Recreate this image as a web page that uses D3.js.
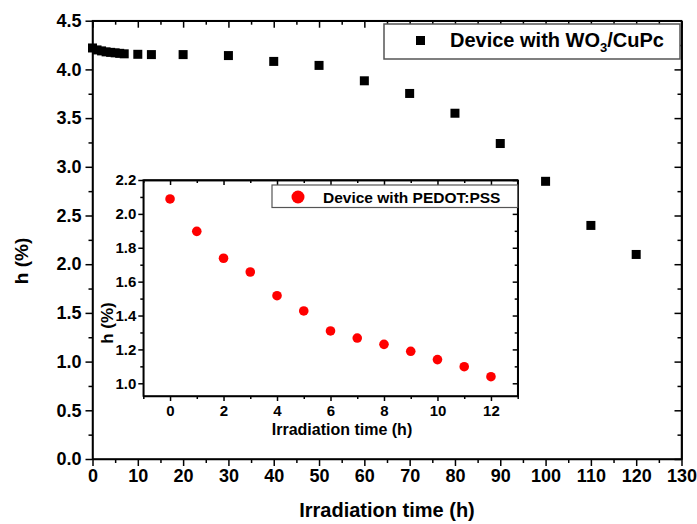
<!DOCTYPE html>
<html>
<head>
<meta charset="utf-8">
<script src="https://cdn.jsdelivr.net/npm/d3@7"></script>
<style>
  body { margin: 0; background: #fff; }
  svg text { font-family: "Liberation Sans", Arial, sans-serif; font-weight: bold; }
</style>
</head>
<body>
<div id="chart"></div>
<script>
// main series: device with WO3/CuPc
const mainTime = [0, 1, 2, 3, 4, 5, 6, 7, 10, 13, 20, 30, 40, 50, 60, 70, 80, 90, 100, 110, 120];
const mainEff = [4.22, 4.20, 4.19, 4.18, 4.175, 4.17, 4.165, 4.16, 4.155, 4.152, 4.152, 4.142, 4.082, 4.041, 3.883, 3.753, 3.55, 3.239, 2.851, 2.398, 2.10];
const mainXTicks = d3.range(0, 131, 10);
const mainYTicks = d3.range(0, 4.51, 0.5);

// inset series: device with PEDOT:PSS
const insetTime = [0, 1, 2, 3, 4, 5, 6, 7, 8, 9, 10, 11, 12];
const insetEff = [2.088, 1.897, 1.738, 1.657, 1.517, 1.427, 1.309, 1.267, 1.230, 1.189, 1.140, 1.098, 1.039];
const insetXTicks = d3.range(0, 13, 2);
const insetYTicks = [1.0, 1.2, 1.4, 1.6, 1.8, 2.0, 2.2];

const width = 697, height = 524;
const svg = d3.select('#chart').append('svg')
    .attr('width', width)
    .attr('height', height);

// box with ticks on all four sides: outward on left/bottom, inward on top/right
function drawFrame(g, x, y, xMajor, xMinor, yMajor, yMinor, opt) {
    const [x0, x1] = x.range();
    const [y0, y1] = y.range(); // y0 bottom, y1 top

    const bottom = g.append('g').attr('transform', `translate(0,${y0})`);
    bottom.call(d3.axisBottom(x).tickValues(xMinor).tickSize(opt.minor).tickFormat(''));
    bottom.call(g2 => g2.select('.domain').remove());
    const bMaj = g.append('g').attr('transform', `translate(0,${y0})`)
        .call(d3.axisBottom(x).tickValues(xMajor).tickSize(opt.major).tickPadding(opt.xPad).tickSizeOuter(0));
    bMaj.selectAll('text').attr('font-size', opt.fs).attr('fill', '#000');

    const left = g.append('g').attr('transform', `translate(${x0},0)`);
    left.call(d3.axisLeft(y).tickValues(yMinor).tickSize(opt.minor).tickFormat(''));
    left.call(g2 => g2.select('.domain').remove());
    const lMaj = g.append('g').attr('transform', `translate(${x0},0)`)
        .call(d3.axisLeft(y).tickValues(yMajor).tickSize(opt.major).tickPadding(opt.yPad).tickFormat(d3.format('.1f')).tickSizeOuter(0));
    lMaj.selectAll('text').attr('font-size', opt.fs).attr('fill', '#000');

    const top = g.append('g').attr('transform', `translate(0,${y1})`);
    top.call(d3.axisBottom(x).tickValues(xMajor).tickSize(opt.major).tickFormat('').tickSizeOuter(0));
    top.append('g').call(d3.axisBottom(x).tickValues(xMinor).tickSize(opt.minor).tickFormat('').tickSizeOuter(0));

    const right = g.append('g').attr('transform', `translate(${x1},0)`);
    right.call(d3.axisLeft(y).tickValues(yMajor).tickSize(opt.major).tickFormat('').tickSizeOuter(0));
    right.append('g').call(d3.axisLeft(y).tickValues(yMinor).tickSize(opt.minor).tickFormat('').tickSizeOuter(0));

    g.selectAll('.domain').attr('stroke', '#000').attr('stroke-width', 1.5);
    g.selectAll('.tick line').attr('stroke', '#000').attr('stroke-width', 1.5);
}

// ---------- main plot ----------
const mx = d3.scaleLinear().domain([0, 130]).range([92.5, 681.5]);
const my = d3.scaleLinear().domain([0, 4.5]).range([459, 20.7]);

const mainG = svg.append('g');
mainG.append('rect')
    .attr('x', mx(0)).attr('y', my(4.5))
    .attr('width', mx(130) - mx(0)).attr('height', my(0) - my(4.5))
    .attr('fill', 'none').attr('stroke', '#000').attr('stroke-width', 1.5);

drawFrame(mainG, mx, my,
    mainXTicks, d3.range(5, 130, 10),
    mainYTicks, d3.range(0.25, 4.5, 0.5),
    { major: 7, minor: 4, fs: 18, xPad: 3, yPad: 4 });

const sq = 9;
mainG.selectAll('rect.pt')
    .data(mainTime)
    .join('rect')
    .attr('class', 'pt')
    .attr('x', d => mx(d) - sq / 2)
    .attr('y', (d, i) => my(mainEff[i]) - sq / 2)
    .attr('width', sq).attr('height', sq)
    .attr('fill', '#000');

// axis titles
svg.append('text')
    .attr('x', (mx(0) + mx(130)) / 2).attr('y', 517)
    .attr('text-anchor', 'middle').attr('font-size', 20)
    .text('Irradiation time (h)');
svg.append('text')
    .attr('transform', 'translate(28,261) rotate(-90)')
    .attr('text-anchor', 'middle').attr('font-size', 19)
    .text('h (%)');

// main legend
const lg = svg.append('g');
lg.append('rect')
    .attr('x', 384).attr('y', 24).attr('width', 296).attr('height', 35)
    .attr('fill', '#fff').attr('stroke', '#555').attr('stroke-width', 1.5);
lg.append('rect')
    .attr('x', 416).attr('y', 36).attr('width', sq).attr('height', sq).attr('fill', '#000');
const lt = lg.append('text').attr('x', 450).attr('y', 47).attr('font-size', 20);
lt.append('tspan').text('Device with WO');
lt.append('tspan').attr('font-size', 13).attr('dy', 5).text('3');
lt.append('tspan').attr('dy', -5).text('/CuPc');

// ---------- inset ----------
const ix = d3.scaleLinear().domain([-1, 13]).range([143.3, 517.7]);
const iy = d3.scaleLinear().domain([0.925, 2.2]).range([396, 180]);

const insetG = svg.append('g');
insetG.append('rect')
    .attr('x', ix(-1)).attr('y', iy(2.2))
    .attr('width', ix(13) - ix(-1)).attr('height', iy(0.925) - iy(2.2))
    .attr('fill', '#fff').attr('stroke', '#000').attr('stroke-width', 1.5);

drawFrame(insetG, ix, iy,
    insetXTicks, d3.range(-1, 13.01, 2),
    insetYTicks, d3.range(1.1, 2.2, 0.2),
    { major: 5, minor: 3, fs: 15, xPad: 4, yPad: 2 });

insetG.selectAll('circle.pt')
    .data(insetTime)
    .join('circle')
    .attr('class', 'pt')
    .attr('cx', d => ix(d))
    .attr('cy', (d, i) => iy(insetEff[i]))
    .attr('r', 4.8)
    .attr('fill', '#ff0000');

svg.append('text')
    .attr('x', 342).attr('y', 435)
    .attr('text-anchor', 'middle').attr('font-size', 16)
    .text('Irradiation time (h)');
svg.append('text')
    .attr('transform', 'translate(113,323) rotate(-90)')
    .attr('text-anchor', 'middle').attr('font-size', 17)
    .text('h (%)');

// inset legend
const il = svg.append('g');
il.append('rect')
    .attr('x', 272).attr('y', 185).attr('width', 245.7).attr('height', 22.5)
    .attr('fill', '#fff').attr('stroke', '#555').attr('stroke-width', 1.2);
il.append('circle').attr('cx', 298).attr('cy', 197).attr('r', 6.5).attr('fill', '#ff0000');
il.append('text').attr('x', 323).attr('y', 202.5).attr('font-size', 15.5)
    .text('Device with PEDOT:PSS');
</script>
</body>
</html>
